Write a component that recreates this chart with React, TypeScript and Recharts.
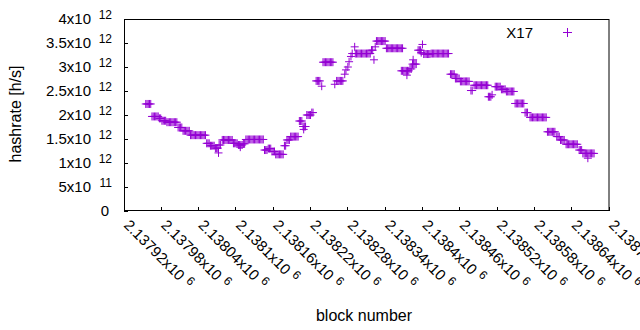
import React from 'react';
import { ScatterChart, Scatter, XAxis, YAxis } from 'recharts';

const PURPLE = '#9400d3';
const FONT = '"Liberation Sans", Arial, sans-serif';
const FS = 15;
const SUP = 12;
const TITLE_FS = 16;

// x axis ticks (block numbers) and y axis ticks (hashrate in units of 10^12 h/s)
const xTicks = [2137920, 2137980, 2138040, 2138100, 2138160, 2138220, 2138280, 2138340, 2138400, 2138460, 2138520, 2138580, 2138640, 2138700];
const yTicks = [0, 0.5, 1, 1.5, 2, 2.5, 3, 3.5, 4];
const yTickMantissa = ['0', '5', '1', '1.5', '2', '2.5', '3', '3.5', '4'];
const yTickExponent = ['', '11', '12', '12', '12', '12', '12', '12', '12'];
const seriesName = 'X17';

// [block number, hashrate (x10^12 h/s)]
const declinePhase: [number, number][] = [
  [2137955, 2.23], [2137957, 2.23], [2137959, 2.23], [2137961, 2.23], [2137963, 2.23],
  [2137965, 1.97], [2137967, 1.97], [2137969, 1.97], [2137971, 1.97], [2137973, 1.97], [2137975, 1.97],
  [2137977, 1.93], [2137979, 1.93],
  [2137981, 1.88], [2137983, 1.88], [2137985, 1.88], [2137987, 1.88],
  [2137989, 1.85], [2137991, 1.85], [2137993, 1.85], [2137995, 1.85], [2137997, 1.85], [2137999, 1.85], [2138001, 1.85], [2138003, 1.85], [2138005, 1.85],
  [2138007, 1.74], [2138009, 1.74], [2138011, 1.74], [2138013, 1.74],
  [2138015, 1.67], [2138017, 1.67], [2138019, 1.67], [2138021, 1.67], [2138023, 1.67], [2138025, 1.67],
  [2138027, 1.58], [2138029, 1.58], [2138031, 1.58], [2138033, 1.58], [2138035, 1.58], [2138037, 1.58], [2138039, 1.58],
  [2138041, 1.58], [2138043, 1.58], [2138045, 1.58], [2138047, 1.58], [2138049, 1.58], [2138051, 1.58],
  [2138053, 1.41], [2138055, 1.41], [2138057, 1.41],
  [2138059, 1.36], [2138061, 1.36], [2138063, 1.36], [2138065, 1.36],
  [2138067, 1.31], [2138069, 1.31], [2138071, 1.31], [2138072, 1.21],
  [2138073, 1.375], [2138075, 1.375],
];

const troughPhase: [number, number][] = [
  [2138078, 1.48], [2138080, 1.48], [2138082, 1.48], [2138084, 1.48], [2138086, 1.48], [2138088, 1.48], [2138090, 1.48], [2138092, 1.48], [2138094, 1.48],
  [2138096, 1.41], [2138098, 1.41], [2138100, 1.41], [2138102, 1.41],
  [2138104, 1.375], [2138106, 1.375], [2138107, 1.33], [2138108, 1.375], [2138110, 1.375],
  [2138112, 1.40], [2138114, 1.40],
  [2138116, 1.49], [2138118, 1.49], [2138120, 1.49], [2138122, 1.49], [2138124, 1.49], [2138126, 1.49], [2138128, 1.49], [2138130, 1.49],
  [2138132, 1.49], [2138134, 1.49], [2138136, 1.49], [2138138, 1.49], [2138140, 1.49], [2138142, 1.49], [2138144, 1.49],
  [2138146, 1.27], [2138148, 1.27], [2138150, 1.27],
  [2138152, 1.30], [2138154, 1.30], [2138156, 1.30],
  [2138158, 1.24], [2138160, 1.24], [2138162, 1.24],
  [2138164, 1.18], [2138166, 1.18], [2138168, 1.18], [2138170, 1.18], [2138172, 1.18], [2138174, 1.18], [2138176, 1.18],
  [2138178, 1.36], [2138180, 1.36],
  [2138182, 1.48], [2138184, 1.48], [2138186, 1.48],
  [2138188, 1.55], [2138190, 1.55], [2138192, 1.55], [2138194, 1.55], [2138196, 1.55], [2138198, 1.55], [2138200, 1.55],
];

const risePhase: [number, number][] = [
  [2138202, 1.875], [2138204, 1.875], [2138206, 1.875],
  [2138208, 1.76], [2138209, 1.70], [2138210, 1.76], [2138212, 1.76],
  [2138214, 2.0], [2138216, 2.0], [2138218, 2.0], [2138220, 2.0],
  [2138222, 2.05], [2138224, 2.05],
  [2138229, 2.71], [2138231, 2.71], [2138233, 2.71], [2138235, 2.71], [2138238, 2.60],
  [2138240, 3.10], [2138242, 3.10], [2138244, 3.10], [2138246, 3.10], [2138248, 3.10], [2138250, 3.10], [2138252, 3.10], [2138254, 3.10], [2138256, 3.10],
  [2138259, 2.64], [2138262, 2.71], [2138264, 2.71], [2138266, 2.71], [2138268, 2.71], [2138270, 2.71], [2138272, 2.71],
  [2138275, 2.85], [2138277, 2.94], [2138280, 3.0], [2138282, 3.11],
  [2138285, 3.22], [2138287, 3.28], [2138291, 3.42],
  [2138292, 3.28], [2138294, 3.28], [2138296, 3.28], [2138298, 3.28], [2138300, 3.28], [2138302, 3.28], [2138304, 3.28],
  [2138306, 3.28], [2138308, 3.28], [2138310, 3.28], [2138312, 3.28], [2138314, 3.28], [2138316, 3.28],
  [2138318, 3.35], [2138320, 3.35], [2138322, 3.15], [2138324, 3.42],
  [2138326, 3.54], [2138328, 3.54], [2138330, 3.54], [2138332, 3.54], [2138334, 3.54], [2138336, 3.54], [2138338, 3.54], [2138340, 3.54],
  [2138342, 3.39], [2138344, 3.39], [2138346, 3.39], [2138348, 3.39], [2138350, 3.39], [2138352, 3.39], [2138354, 3.39],
  [2138356, 3.39], [2138358, 3.39], [2138360, 3.39], [2138362, 3.39], [2138364, 3.39], [2138366, 3.39], [2138368, 3.39],
  [2138366, 2.92], [2138368, 2.92], [2138370, 2.92], [2138372, 2.92], [2138374, 2.92], [2138375, 2.83], [2138376, 2.92], [2138378, 2.92],
  [2138380, 2.96], [2138382, 2.96],
  [2138384, 3.06], [2138385, 3.15], [2138386, 3.06], [2138388, 3.06], [2138390, 3.06],
  [2138393, 3.35], [2138395, 3.35], [2138397, 3.35], [2138398, 3.30], [2138400, 3.47],
];

const fallPhase: [number, number][] = [
  [2138402, 3.27], [2138404, 3.27], [2138406, 3.27], [2138408, 3.27], [2138410, 3.27], [2138412, 3.27],
  [2138414, 3.28], [2138416, 3.28], [2138418, 3.28], [2138420, 3.28], [2138422, 3.28], [2138424, 3.28], [2138426, 3.28], [2138428, 3.28],
  [2138430, 3.28], [2138432, 3.28], [2138434, 3.28], [2138436, 3.28], [2138438, 3.28], [2138440, 3.28], [2138442, 3.28],
  [2138445, 2.85], [2138447, 2.85], [2138449, 2.85], [2138451, 2.85],
  [2138453, 2.76], [2138455, 2.76], [2138457, 2.76], [2138459, 2.76],
  [2138461, 2.70], [2138463, 2.70], [2138465, 2.70], [2138467, 2.70], [2138469, 2.70], [2138471, 2.70], [2138473, 2.70], [2138475, 2.70],
  [2138478, 2.51], [2138480, 2.51],
  [2138483, 2.62], [2138485, 2.62], [2138487, 2.62], [2138489, 2.62], [2138491, 2.62], [2138493, 2.62], [2138495, 2.62],
  [2138497, 2.62], [2138499, 2.62], [2138501, 2.62], [2138503, 2.62], [2138505, 2.62],
  [2138506, 2.38], [2138508, 2.38], [2138510, 2.38], [2138512, 2.42],
  [2138517, 2.59], [2138519, 2.59], [2138521, 2.59], [2138523, 2.59], [2138525, 2.59],
  [2138527, 2.535], [2138529, 2.535], [2138531, 2.535], [2138533, 2.535],
  [2138535, 2.49], [2138537, 2.49], [2138539, 2.49], [2138541, 2.49], [2138543, 2.49], [2138545, 2.49], [2138547, 2.49],
  [2138549, 2.24], [2138551, 2.24], [2138553, 2.24], [2138555, 2.24], [2138557, 2.24], [2138559, 2.24], [2138561, 2.24], [2138563, 2.24],
  [2138565, 2.05], [2138567, 2.05], [2138569, 2.05],
  [2138573, 1.95], [2138575, 1.95], [2138577, 1.95], [2138579, 1.95], [2138581, 1.95], [2138583, 1.95], [2138585, 1.95],
  [2138587, 1.95], [2138589, 1.95], [2138591, 1.95], [2138593, 1.95], [2138595, 1.95], [2138597, 1.95], [2138599, 1.95],
  [2138601, 1.65], [2138603, 1.65], [2138605, 1.65], [2138607, 1.65], [2138609, 1.65], [2138611, 1.65], [2138613, 1.65],
  [2138616, 1.55], [2138618, 1.55], [2138620, 1.55],
  [2138622, 1.48], [2138624, 1.48], [2138626, 1.48], [2138628, 1.48],
  [2138631, 1.39], [2138633, 1.39], [2138635, 1.39], [2138637, 1.39], [2138639, 1.39],
  [2138641, 1.39], [2138643, 1.39], [2138645, 1.39], [2138647, 1.39], [2138649, 1.39],
  [2138652, 1.27], [2138654, 1.27], [2138656, 1.27],
  [2138658, 1.20], [2138660, 1.20], [2138662, 1.20], [2138664, 1.20], [2138666, 1.20], [2138666, 1.10],
  [2138668, 1.20], [2138670, 1.20], [2138672, 1.20], [2138674, 1.20], [2138676, 1.20],
];

const points = [...declinePhase, ...troughPhase, ...risePhase, ...fallPhase].map(([block, rate]) => ({ block, rate }));

const crisp = (v: number) => Math.round(v - 0.5) + 0.5;

const PlusShape = (props: any) => {
  const { cx, cy } = props;
  if (cx == null || cy == null) return <g />;
  return (
    <path
      d={`M${cx - 4},${cy}H${cx + 4}M${cx},${cy - 4}V${cy + 4}`}
      stroke={PURPLE}
      strokeWidth={1}
      fill="none"
    />
  );
};

const fmtBlock = (v: number) => parseFloat((v / 1e6).toFixed(5)).toString();

const BottomTick = (props: any) => {
  const { x, y, payload } = props;
  const ax = x - 1;
  const ay = y + 15;
  const px = crisp(x);
  return (
    <g>
      <path d={`M${px},${y}V${y - 4}`} stroke="#000" strokeWidth={1} fill="none" />
      <text
        x={ax}
        y={ay}
        transform={`rotate(45 ${ax} ${ay})`}
        fontSize={FS}
        fontFamily={FONT}
        fill="#000"
        stroke="none"
      >
        {fmtBlock(payload.value)}x10
        <tspan dx={5} dy={-5} fontSize={SUP}>6</tspan>
      </text>
    </g>
  );
};

const TopTick = (props: any) => {
  const { x, y } = props;
  const px = crisp(x);
  return <path d={`M${px},${y}V${y + 4}`} stroke="#000" strokeWidth={1} fill="none" />;
};

const LeftTick = (props: any) => {
  const { x, y, payload } = props;
  const i = yTicks.indexOf(payload.value);
  const m = yTickMantissa[i];
  const e = yTickExponent[i];
  const py = crisp(y);
  return (
    <g>
      <path d={`M${x},${py}H${x + 4}`} stroke="#000" strokeWidth={1} fill="none" />
      {e ? (
        <>
          <text x={x - 33} y={y + 5} textAnchor="end" fontSize={FS} fontFamily={FONT} fill="#000" stroke="none">
            {m + 'x10'}
          </text>
          <text x={x - 12} y={y - 0.5} textAnchor="end" fontSize={SUP} fontFamily={FONT} fill="#000" stroke="none">
            {e}
          </text>
        </>
      ) : (
        <text x={x - 15} y={y + 5} textAnchor="end" fontSize={FS} fontFamily={FONT} fill="#000" stroke="none">
          {m}
        </text>
      )}
    </g>
  );
};

const RightTick = (props: any) => {
  const { x, y } = props;
  const py = crisp(y);
  return <path d={`M${x},${py}H${x - 4}`} stroke="#000" strokeWidth={1} fill="none" />;
};

export default function App() {
  return (
    <div style={{ position: 'absolute', left: 0, top: 0, width: 640, height: 330, background: '#fff' }}>
      <ScatterChart width={640} height={330} margin={{ top: 19, right: 31, bottom: 0, left: 0 }}>
        <XAxis
          xAxisId={0}
          dataKey="block"
          type="number"
          domain={[xTicks[0], xTicks[xTicks.length - 1]]}
          ticks={xTicks}
          interval={0}
          height={119}
          tickSize={0}
          tickMargin={0}
          tickLine={false}
          axisLine={false}
          tick={<BottomTick />}
          allowDataOverflow
        />
        <XAxis
          xAxisId="top"
          orientation="top"
          type="number"
          domain={[xTicks[0], xTicks[xTicks.length - 1]]}
          ticks={xTicks}
          interval={0}
          height={0}
          tickSize={0}
          tickMargin={0}
          tickLine={false}
          axisLine={false}
          tick={<TopTick />}
          allowDataOverflow
        />
        <YAxis
          yAxisId={0}
          dataKey="rate"
          type="number"
          domain={[0, 4]}
          ticks={yTicks}
          interval={0}
          width={124}
          tickSize={0}
          tickMargin={0}
          tickLine={false}
          axisLine={false}
          tick={<LeftTick />}
          allowDataOverflow
        />
        <YAxis
          yAxisId="right"
          orientation="right"
          type="number"
          domain={[0, 4]}
          ticks={yTicks}
          interval={0}
          width={0}
          tickSize={0}
          tickMargin={0}
          tickLine={false}
          axisLine={false}
          tick={<RightTick />}
          allowDataOverflow
        />
        <Scatter
          name={seriesName}
          data={points}
          xAxisId={0}
          yAxisId={0}
          fill={PURPLE}
          shape={<PlusShape />}
          isAnimationActive={false}
        />
      </ScatterChart>
      <svg
        width={640}
        height={330}
        style={{ position: 'absolute', left: 0, top: 0, pointerEvents: 'none' }}
      >
        <rect x={124.5} y={19.5} width={484.5} height={191} fill="none" stroke="#000" strokeWidth={1} />
        <text
          x={21}
          y={114}
          transform="rotate(-90 21 114)"
          textAnchor="middle"
          fontSize={TITLE_FS}
          fontFamily={FONT}
          fill="#000"
        >
          hashrate [h/s]
        </text>
        <text x={364} y={321} textAnchor="middle" fontSize={TITLE_FS} fontFamily={FONT} fill="#000">
          block number
        </text>
        <text x={533} y={37.5} textAnchor="end" fontSize={FS} fontFamily={FONT} fill="#000">
          {seriesName}
        </text>
        <path d="M563,32.5H572M567.5,28V37" stroke={PURPLE} strokeWidth={1} fill="none" />
      </svg>
    </div>
  );
}
